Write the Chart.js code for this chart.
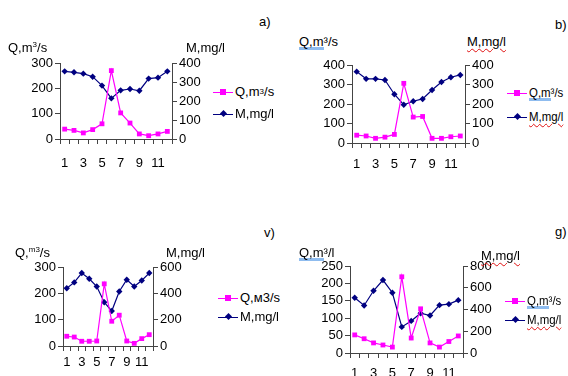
<!DOCTYPE html>
<html>
<head>
<meta charset="utf-8">
<script src="https://cdn.jsdelivr.net/npm/chart.js@4.4.1/dist/chart.umd.min.js"></script>
<style>
  body { margin: 0; width: 568px; height: 376px; background: #fff; position: relative; overflow: hidden;
         font-family: "Liberation Sans", Arial, sans-serif; color: #000; }
  canvas { position: absolute; }
  .t { position: absolute; font-size: 13px; line-height: 14px; white-space: nowrap; }
  .t sup, .lg sup { font-size: 8px; vertical-align: 5px; line-height: 0; }
  .lg { position: absolute; font-size: 13px; line-height: 14px; white-space: nowrap; display: flex; align-items: center; }
  .sw { position: relative; width: 20px; height: 1px; margin-right: 2px; flex: none; }
  .sw i { position: absolute; left: 7px; top: -3px; width: 6px; height: 6px; }
  .sw.m i { left: 7.5px; top: -2.5px; width: 5px; height: 5px; transform: rotate(45deg); }
  .bu { background: linear-gradient(#8fbcef, #8fbcef) no-repeat 0 100% / 100% 3px; padding-bottom: 1px; }
  .rw { text-decoration: underline wavy #e01010; text-decoration-thickness: 1px; text-underline-offset: 2px; }
  .nar { display: inline-block; transform: scaleX(0.88); transform-origin: 0 50%; }
</style>
</head>
<body>
<canvas id="ca"></canvas>
<canvas id="cb"></canvas>
<canvas id="cc"></canvas>
<canvas id="cd"></canvas>

<div class="t" style="left:259px;top:15px">a)</div>
<div class="t" style="left:8px;top:41px">Q,m<sup>3</sup>/s</div>
<div class="t" style="left:186px;top:41px">M,mg/l</div>
<div class="lg" style="left:213px;top:85px"><span class="sw" style="background:#ff00ff"><i style="background:#ff00ff"></i></span>Q,m<sup>3</sup>/s</div>
<div class="lg" style="left:213px;top:107px"><span class="sw m" style="background:#000080"><i style="background:#000080"></i></span>M,mg/l</div>

<div class="t" style="left:555px;top:18px">b)</div>
<div class="t" style="left:299px;top:35px"><span class="bu">Q,m</span>³/s</div>
<div class="t" style="left:467px;top:35px"><span class="rw">M,mg/l</span></div>
<div class="lg" style="left:507px;top:86px"><span class="sw" style="background:#ff00ff"><i style="background:#ff00ff"></i></span><span class="nar"><span class="bu">Q,m</span>³/s</span></div>
<div class="lg" style="left:507px;top:110px"><span class="sw m" style="background:#000080"><i style="background:#000080"></i></span><span class="nar"><span class="rw">M,mg/l</span></span></div>

<div class="t" style="left:264px;top:226px">v)</div>
<div class="t" style="left:15px;top:246px">Q,<sup>m3</sup>/s</div>
<div class="t" style="left:166px;top:246px">M,mg/l</div>
<div class="lg" style="left:218px;top:291px"><span class="sw" style="background:#ff00ff"><i style="background:#ff00ff"></i></span>Q,м3/s</div>
<div class="lg" style="left:218px;top:310px"><span class="sw m" style="background:#000080"><i style="background:#000080"></i></span>M,mg/l</div>

<div class="t" style="left:555px;top:225px">g)</div>
<div class="t" style="left:299px;top:246px"><span class="bu">Q,m</span>³/l</div>
<div class="t" style="left:481px;top:249px"><span class="rw">M,mg/l</span></div>
<div class="lg" style="left:505px;top:294px"><span class="sw" style="background:#ff00ff"><i style="background:#ff00ff"></i></span><span class="nar"><span class="bu">Q,m</span>³/s</span></div>
<div class="lg" style="left:505px;top:313px"><span class="sw m" style="background:#000080"><i style="background:#000080"></i></span><span class="nar"><span class="rw">M,mg/l</span></span></div>

<script>
// months on the x axis, only odd ones get a label
var months = ['1', '2', '3', '4', '5', '6', '7', '8', '9', '10', '11', '12'];

// a) discharge (left axis) and mineralisation (right axis)
var qA = [39, 34, 24, 37, 60, 270, 103, 63, 20, 13, 20, 30];
var mA = [356, 351, 344, 328, 281, 214, 256, 263, 254, 318, 323, 356];

// b)
var qB = [40, 36, 24, 30, 44, 306, 133, 136, 24, 24, 32, 36];
var mB = [366, 329, 329, 323, 250, 196, 214, 226, 272, 313, 337, 349];

// v)
var qC = [37, 34, 18, 18, 19, 236, 94, 117, 19, 10, 28, 43];
var mC = [439, 483, 554, 511, 452, 332, 266, 414, 503, 452, 498, 554];

// g)
var qD = [52, 41, 29, 23, 17, 219, 43, 127, 29, 17, 33, 49];
var mD = [508, 437, 572, 671, 554, 240, 295, 366, 345, 440, 449, 486];

var AXIS = '#444';
Chart.defaults.font.family = '"Liberation Sans", Arial, sans-serif';
Chart.defaults.font.size = 13;
Chart.defaults.color = '#000';

function panel(id, box, plot, q, m, left, right, xPad) {
  var cv = document.getElementById(id);
  cv.width = box.w; cv.height = box.h;
  cv.style.left = box.x + 'px'; cv.style.top = box.y + 'px';
  cv.style.width = box.w + 'px'; cv.style.height = box.h + 'px';

  new Chart(cv.getContext('2d'), {
    type: 'line',
    data: {
      labels: months,
      datasets: [{
        data: q, yAxisID: 'y',
        borderColor: '#ff00ff', backgroundColor: '#ff00ff',
        borderWidth: 1.2, pointStyle: 'rect', pointRadius: 3.4, pointBorderWidth: 0
      }, {
        data: m, yAxisID: 'y1',
        borderColor: '#000080', backgroundColor: '#000080',
        borderWidth: 1.2, pointStyle: 'rectRot', pointRadius: 3.2, pointBorderWidth: 0
      }]
    },
    options: {
      responsive: false,
      animation: false,
      devicePixelRatio: 1,
      layout: { padding: { top: plot.t - box.y, left: 0, right: 0, bottom: 0 } },
      plugins: { legend: { display: false }, tooltip: { enabled: false } },
      scales: {
        x: {
          offset: true,
          grid: { offset: true, drawOnChartArea: false, tickLength: 5, color: AXIS },
          border: { color: AXIS },
          ticks: {
            autoSkip: false, maxRotation: 0, padding: xPad,
            callback: function (v, i) { return i % 2 === 0 ? months[i] : ''; }
          },
          afterFit: function (s) { s.height = box.y + box.h - plot.b; }
        },
        y: {
          position: 'left', min: 0, max: left.max,
          ticks: { stepSize: left.step, padding: 2, autoSkip: false },
          grid: { drawOnChartArea: false, tickLength: 5, color: AXIS },
          border: { color: AXIS },
          afterFit: function (s) { s.width = plot.l - box.x; }
        },
        y1: {
          position: 'right', min: 0, max: right.max,
          ticks: { stepSize: right.step, padding: 2, autoSkip: false },
          grid: { drawOnChartArea: false, tickLength: 5, color: AXIS },
          border: { color: AXIS },
          afterFit: function (s) { s.width = box.x + box.w - plot.r; }
        }
      }
    }
  });
}

panel('ca', { x: 0, y: 53, w: 205, h: 125 }, { l: 60, r: 172, t: 63, b: 139 }, qA, mA,
      { max: 300, step: 100 }, { max: 400, step: 100 }, 12);
panel('cb', { x: 284, y: 55, w: 216, h: 128 }, { l: 352, r: 465, t: 65, b: 143 }, qB, mB,
      { max: 400, step: 100 }, { max: 400, step: 100 }, 9);
panel('cc', { x: 0, y: 257, w: 190, h: 119 }, { l: 63, r: 153, t: 267, b: 346 }, qC, mC,
      { max: 300, step: 100 }, { max: 600, step: 200 }, 4);
panel('cd', { x: 284, y: 256, w: 216, h: 120 }, { l: 350, r: 463, t: 266, b: 353 }, qD, mD,
      { max: 250, step: 50 }, { max: 800, step: 200 }, 8);
</script>
</body>
</html>
